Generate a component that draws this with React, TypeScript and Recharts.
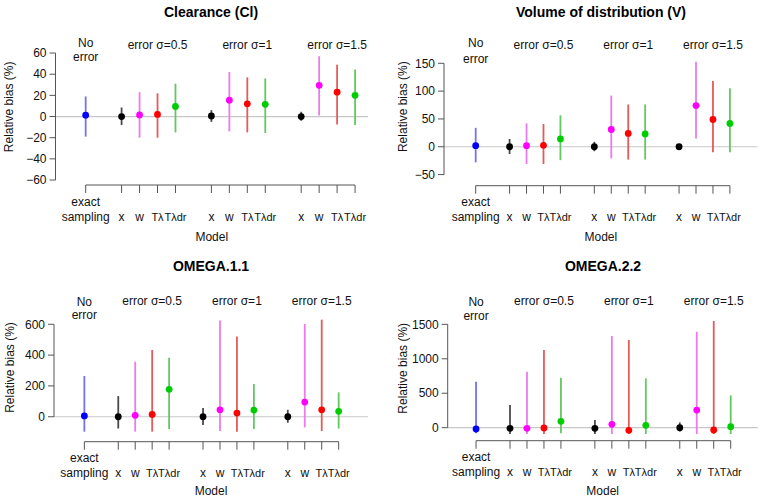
import { ComposedChart, Scatter, ErrorBar, XAxis, YAxis, ReferenceLine } from 'recharts'

const FONT = '"Liberation Sans", Arial, Helvetica, sans-serif'
const AXIS = '#555555'
const W = 381
const H = 250

// model positions along the x axis and their labels
const positions = [1, 3, 4, 5, 6, 8, 9, 10, 11, 13, 14, 15, 16]
const modelLabels = ['exact sampling', 'x', 'w', 'Tλ', 'Tλdr', 'x', 'w', 'Tλ', 'Tλdr', 'x', 'w', 'Tλ', 'Tλdr']
const modelKinds = ['exact', 'x', 'w', 'tl', 'tldr', 'x', 'w', 'tl', 'tldr', 'x', 'w', 'tl', 'tldr']

const kinds = ['exact', 'x', 'w', 'tl', 'tldr']
const pointColors = ['#0000ff', '#000000', '#ff00ff', '#ff0000', '#00cd00']
const lineColors = ['#7272f2', '#4a4a4a', '#ec7aec', '#e65a5a', '#62c862']

const groupPositions = [1, 5, 10, 15]
const groupLabels = ['No error', 'error σ=0.5', 'error σ=1', 'error σ=1.5']

// Clearance (Cl)
const clEst = [1.3, 0, 1.5, 2, 9.5, 0.5, 15.5, 12, 11.5, 0, 29.5, 23, 20]
const clLow = [-19, -8, -20, -20, -15, -5, -14, -15, -15.5, -4, 1, -7.5, -8]
const clHigh = [19, 8.5, 23, 22, 31, 6, 42, 37, 36, 4.5, 57, 49, 44.5]

// Volume of distribution (V)
const vEst = [2, 0, 2, 2.5, 14, 0, 31, 24, 23, 0, 74, 49, 42]
const vLow = [-28, -13, -31, -31, -24, -8, -21, -23, -23, -3, 15, -10, -10]
const vHigh = [34, 14, 42, 41, 56.5, 9, 92, 76, 76, 3, 153, 118, 105]

// OMEGA.1.1
const o1Est = [5, 0, 9, 15, 178, 0, 45, 24, 43, 0, 95, 45, 35]
const o1Low = [-97, -76, -97, -97, -80, -54, -93, -97, -80, -39, -69, -93, -76]
const o1High = [264, 134, 357, 433, 383, 56, 624, 520, 212, 45, 602, 630, 158]

// OMEGA.2.2
const o2Est = [-19, -10, -10, -5, 92, -10, 48, -39, 34, 0, 256, -34, 15]
const o2Low = [-82, -92, -92, -92, -82, -92, -92, -92, -92, -58, -92, -92, -92]
const o2High = [668, 329, 813, 1127, 726, 111, 1330, 1272, 716, 77, 1393, 1548, 469]

const clTicks = [-60, -40, -20, 0, 20, 40, 60]
const vTicks = [-50, 0, 50, 100, 150]
const o1Ticks = [0, 200, 400, 600]
const o2Ticks = [0, 500, 1000, 1500]

type PanelCfg = {
  title: string
  est: number[]
  low: number[]
  high: number[]
  yTicks: number[]
  yDomain: [number, number]
  xDomain: [number, number]
  plotTop: number
  marginRight: number
  yAxisWidth: number
  xAxisHeight: number
  headerY: number[]
  titleX: number
  titleY: number
  ylabX: number
  modelDy: number
}

const panels: PanelCfg[] = [
  {
    title: 'Clearance (Cl)', est: clEst, low: clLow, high: clHigh, yTicks: clTicks,
    yDomain: [-64.7, 83], xDomain: [-0.68, 16.72], plotTop: 28.7, marginRight: 13,
    yAxisWidth: 55.5, xAxisHeight: 65, headerY: [43, 57, 45], titleX: 211, titleY: 12,
    ylabX: 9, modelDy: 56,
  },
  {
    title: 'Volume of distribution (V)', est: vEst, low: vLow, high: vHigh, yTicks: vTicks,
    yDomain: [-70, 214], xDomain: [-0.87, 17.64], plotTop: 27.7, marginRight: 4.3,
    yAxisWidth: 63, xAxisHeight: 64.3, headerY: [43, 59, 45], titleX: 220, titleY: 12,
    ylabX: 22, modelDy: 55.5,
  },
  {
    title: 'OMEGA.1.1', est: o1Est, low: o1Low, high: o1High, yTicks: o1Ticks,
    yDomain: [-162, 801], xDomain: [-0.79, 17.73], plotTop: 43.3, marginRight: 13,
    yAxisWidth: 54, xAxisHeight: 58.3, headerY: [52, 65, 51], titleX: 211, titleY: 16,
    ylabX: 10, modelDy: 53.6,
  },
  {
    title: 'OMEGA.2.2', est: o2Est, low: o2Low, high: o2High, yTicks: o2Ticks,
    yDomain: [-189, 1913], xDomain: [-0.67, 17.59], plotTop: 45.9, marginRight: 4.3,
    yAxisWidth: 66.7, xAxisHeight: 59.3, headerY: [52, 66, 51], titleX: 222, titleY: 16,
    ylabX: 22, modelDy: 54.6,
  },
]

const fmt = (v: number) => (v < 0 ? '\u2212' + Math.abs(v) : String(v))

function ModelTick(props: any) {
  const { x, y, payload } = props
  const label = modelLabels[positions.indexOf(payload.value)]
  const parts = label.split(' ')
  if (parts.length > 1) {
    return (
      <text x={x} textAnchor="middle" fontSize={12} fontFamily={FONT} fill="#111">
        <tspan x={x} y={y + 12.5}>{parts[0]}</tspan>
        <tspan x={x} y={y + 27.5}>{parts[1]}</tspan>
      </text>
    )
  }
  return (
    <text
      x={x}
      y={y + 27.5}
      textAnchor="middle"
      fontSize={label.startsWith('T') ? 11 : 12}
      fontFamily={FONT}
      fill="#111"
    >
      {label}
    </text>
  )
}

function HeaderTick(props: any) {
  const { x, payload, ys } = props
  const label = groupLabels[groupPositions.indexOf(payload.value)]
  if (label === 'No error') {
    return (
      <text x={x} textAnchor="middle" fontSize={12} fontFamily={FONT} fill="#111">
        <tspan x={x} y={ys[0] + 4.3}>No</tspan>
        <tspan x={x} y={ys[1] + 4.3}>error</tspan>
      </text>
    )
  }
  return (
    <text x={x} y={ys[2] + 4.3} textAnchor="middle" fontSize={12} fontFamily={FONT} fill="#111">
      {label}
    </text>
  )
}

function Panel({ cfg, left, top }: { cfg: PanelCfg; left: number; top: number }) {
  const rows = positions.map((x, i) => ({
    x,
    y: cfg.est[i],
    err: [cfg.est[i] - cfg.low[i], cfg.high[i] - cfg.est[i]],
    kind: modelKinds[i],
  }))
  const plotBottom = H - cfg.xAxisHeight
  const plotLeft = cfg.yAxisWidth
  const plotRight = W - cfg.marginRight
  const lastTick = cfg.yTicks[cfg.yTicks.length - 1]

  return (
    <div style={{ position: 'absolute', left, top, width: W, height: H }}>
      <div
        style={{
          position: 'absolute', left: cfg.titleX - 150, top: cfg.titleY - 9, width: 300,
          textAlign: 'center', fontWeight: 'bold', fontSize: 14, lineHeight: '18px',
          fontFamily: FONT, color: '#000',
        }}
      >
        {cfg.title}
      </div>
      <ComposedChart
        width={W}
        height={H}
        margin={{ top: cfg.plotTop - 1, right: cfg.marginRight, bottom: 0, left: 0 }}
        style={{ position: 'absolute', left: 0, top: 0 }}
      >
        <XAxis
          xAxisId="top"
          orientation="top"
          type="number"
          dataKey="x"
          domain={cfg.xDomain}
          allowDataOverflow
          ticks={groupPositions}
          interval={0}
          height={1}
          axisLine={false}
          tickLine={false}
          tick={(p: any) => <HeaderTick {...p} ys={cfg.headerY} />}
        />
        <XAxis
          type="number"
          dataKey="x"
          domain={cfg.xDomain}
          allowDataOverflow
          ticks={positions}
          interval={0}
          height={cfg.xAxisHeight}
          axisLine={false}
          tickSize={8}
          tickMargin={0}
          tickLine={{ stroke: AXIS, strokeWidth: 1 }}
          tick={(p: any) => <ModelTick {...p} />}
          label={() => (
            <text
              x={(plotLeft + plotRight) / 2}
              y={plotBottom + cfg.modelDy}
              textAnchor="middle"
              fontSize={12}
              fontFamily={FONT}
              fill="#111"
            >
              Model
            </text>
          )}
        />
        <YAxis
          type="number"
          dataKey="y"
          domain={cfg.yDomain}
          allowDataOverflow
          ticks={cfg.yTicks}
          interval={0}
          width={cfg.yAxisWidth}
          axisLine={false}
          tickSize={6}
          tickMargin={3}
          tickLine={{ stroke: AXIS, strokeWidth: 1 }}
          tick={{ fill: '#111', fontSize: 12, fontFamily: FONT }}
          tickFormatter={fmt}
          label={() => {
            const cy = (cfg.plotTop + plotBottom) / 2
            return (
              <text
                x={cfg.ylabX}
                y={cy}
                transform={`rotate(-90 ${cfg.ylabX} ${cy})`}
                textAnchor="middle"
                dominantBaseline="central"
                fontSize={12}
                fontFamily={FONT}
                fill="#111"
              >
                Relative bias (%)
              </text>
            )
          }}
        />
        <ReferenceLine y={0} stroke="#c8c8c8" strokeWidth={1.2} ifOverflow="visible" />
        <ReferenceLine
          segment={[{ x: cfg.xDomain[0], y: cfg.yTicks[0] }, { x: cfg.xDomain[0], y: lastTick }]}
          stroke={AXIS}
          strokeWidth={1}
          ifOverflow="visible"
        />
        <ReferenceLine
          segment={[
            { x: positions[0], y: cfg.yDomain[0] },
            { x: positions[positions.length - 1], y: cfg.yDomain[0] },
          ]}
          stroke={AXIS}
          strokeWidth={1}
          ifOverflow="visible"
        />
        {kinds.map((k, ki) => (
          <Scatter
            key={k}
            data={rows.filter((r) => r.kind === k)}
            isAnimationActive={false}
            shape={(p: any) => <circle cx={p.cx} cy={p.cy} r={3.4} fill={pointColors[ki]} />}
          >
            <ErrorBar
              dataKey="err"
              direction="y"
              width={0}
              stroke={lineColors[ki]}
              strokeWidth={1.8}
              isAnimationActive={false}
            />
          </Scatter>
        ))}
      </ComposedChart>
    </div>
  )
}

export default function App() {
  return (
    <div
      style={{
        position: 'absolute', left: 0, top: 0, width: 762, height: 501,
        background: '#fff', overflow: 'hidden',
      }}
    >
      <Panel cfg={panels[0]} left={0} top={0} />
      <Panel cfg={panels[1]} left={381} top={0} />
      <Panel cfg={panels[2]} left={0} top={250} />
      <Panel cfg={panels[3]} left={381} top={250} />
    </div>
  )
}
